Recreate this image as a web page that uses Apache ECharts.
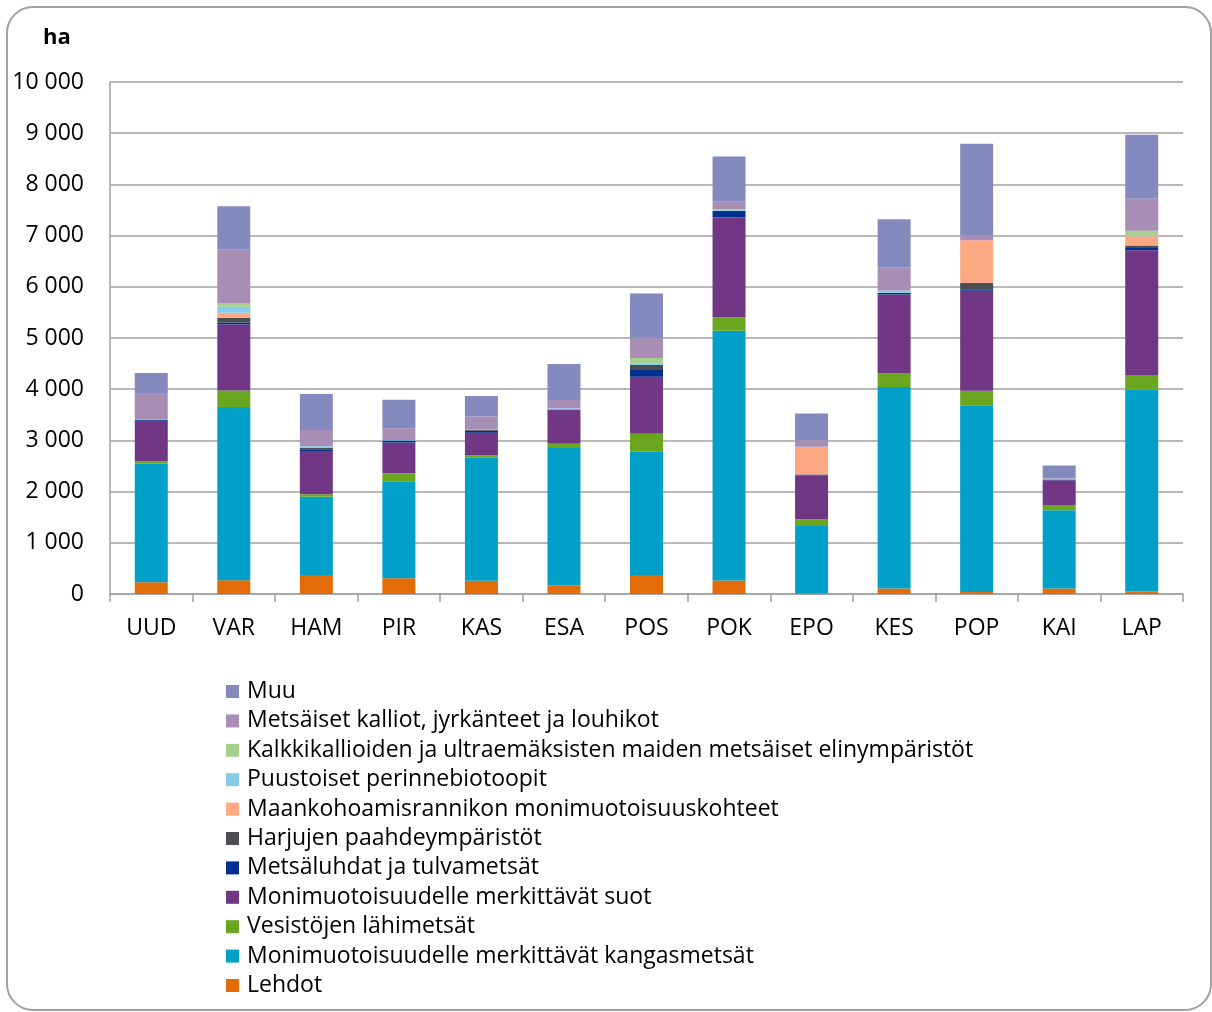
<!DOCTYPE html>
<html>
<head>
<meta charset="utf-8">
<script src="https://cdn.jsdelivr.net/npm/echarts@6/dist/echarts.min.js"></script>
<style>
  html, body { margin: 0; padding: 0; background: #fff; }
  #chart { width: 1212px; height: 1012px; }
</style>
</head>
<body>
<div id="chart"></div>
<script>
// Regions (maakunnat)
const categories = ['UUD', 'VAR', 'HAM', 'PIR', 'KAS', 'ESA', 'POS', 'POK', 'EPO', 'KES', 'POP', 'KAI', 'LAP'];

// Area by habitat type, hectares (stacked bottom to top)
const lehdot       = [230, 270, 370, 310, 260, 170, 370, 265, 10, 105, 40, 105, 50];
const kangasmetsat = [2315, 3380, 1530, 1890, 2400, 2680, 2410, 4875, 1320, 3940, 3645, 1530, 3945];
const vesistot     = [50, 325, 50, 160, 50, 85, 350, 265, 130, 260, 285, 105, 280];
const suot         = [790, 1290, 845, 600, 440, 660, 1115, 1950, 860, 1545, 1955, 480, 2440];
const luhdat       = [15, 40, 30, 40, 40, 10, 130, 125, 15, 30, 25, 15, 45];
const harjut       = [0, 90, 25, 0, 20, 0, 100, 0, 0, 5, 130, 0, 45];
const maankohoamis = [0, 100, 0, 0, 0, 0, 0, 0, 535, 0, 830, 0, 180];
const perinne      = [5, 115, 35, 10, 5, 25, 30, 15, 5, 45, 0, 15, 10];
const kalkki       = [0, 65, 0, 0, 0, 0, 105, 25, 0, 0, 0, 0, 100];
const kalliot      = [520, 1050, 320, 225, 250, 160, 385, 140, 130, 450, 100, 10, 625];
const muu          = [390, 850, 700, 560, 400, 700, 875, 885, 520, 940, 1785, 250, 1250];

const yTicks = [0, 1000, 2000, 3000, 4000, 5000, 6000, 7000, 8000, 9000, 10000];

const seriesDefs = [
  { name: 'Lehdot', data: lehdot, color: '#E36C09' },
  { name: 'Monimuotoisuudelle merkittävät kangasmetsät', data: kangasmetsat, color: '#00A0C8' },
  { name: 'Vesistöjen lähimetsät', data: vesistot, color: '#6AA71F' },
  { name: 'Monimuotoisuudelle merkittävät suot', data: suot, color: '#713784' },
  { name: 'Metsäluhdat ja tulvametsät', data: luhdat, color: '#00308F' },
  { name: 'Harjujen paahdeympäristöt', data: harjut, color: '#4B4D50' },
  { name: 'Maankohoamisrannikon monimuotoisuuskohteet', data: maankohoamis, color: '#FFA984' },
  { name: 'Puustoiset perinnebiotoopit', data: perinne, color: '#86CBEA' },
  { name: 'Kalkkikallioiden ja ultraemäksisten maiden metsäiset elinympäristöt', data: kalkki, color: '#A6D18C' },
  { name: 'Metsäiset kalliot, jyrkänteet ja louhikot', data: kalliot, color: '#A88DB5' },
  { name: 'Muu', data: muu, color: '#848ABE' }
];

const FONT = '"Open Sans"';
const FS = 23;

const chart = echarts.init(document.getElementById('chart'), null, { renderer: 'canvas' });

chart.setOption({
  animation: false,
  backgroundColor: '#ffffff',
  textStyle: { fontFamily: FONT },
  graphic: [
    {
      type: 'rect',
      shape: { x: 7, y: 7, width: 1204, height: 1003, r: 26 },
      style: { fill: 'none', stroke: '#A0A0A0', lineWidth: 2 },
      silent: true,
      z: -1
    },
    {
      type: 'text',
      left: 43,
      top: 27,
      style: { text: 'ha', font: 'bold 22px ' + FONT, fill: '#000' }
    }
  ],
  grid: { left: 110, right: 29, top: 82, bottom: 418, containLabel: false },
  legend: {
    orient: 'vertical',
    left: 221,
    top: 675,
    icon: 'rect',
    itemWidth: 13,
    itemHeight: 13,
    itemGap: 6.4,
    data: seriesDefs.map(s => s.name).reverse(),
    textStyle: { fontFamily: FONT, fontSize: FS, color: '#000', lineHeight: 23, padding: [0, 0, 0, 3] }
  },
  xAxis: {
    type: 'category',
    data: categories,
    axisLine: { lineStyle: { color: '#A0A0A0', width: 1.5 } },
    axisTick: { show: true, length: 8, lineStyle: { color: '#A0A0A0', width: 1.5 } },
    axisLabel: { fontFamily: FONT, fontSize: FS, color: '#000', margin: 23 }
  },
  yAxis: {
    type: 'value',
    min: 0,
    max: 10000,
    interval: 1000,
    axisLine: { show: true, lineStyle: { color: '#A0A0A0', width: 1.5 } },
    axisTick: { show: false },
    splitLine: { lineStyle: { color: '#A0A0A0', width: 1.5 } },
    axisLabel: {
      fontFamily: FONT, fontSize: FS, color: '#000', margin: 26,
      formatter: v => yTicks.includes(v) ? String(v).replace(/\B(?=(\d{3})+(?!\d))/g, ' ') : ''
    }
  },
  series: seriesDefs.map(s => ({
    name: s.name,
    type: 'bar',
    stack: 'ala',
    data: s.data,
    barWidth: 33,
    itemStyle: { color: s.color },
    emphasis: { disabled: true }
  }))
});
</script>
</body>
</html>
